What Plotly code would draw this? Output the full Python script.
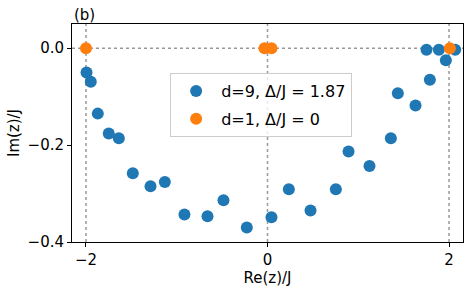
import plotly.graph_objects as go

# d=9, Delta/J=1.87
re_d9 = [-1.994, -1.947, -1.870, -1.749, -1.638, -1.484, -1.289, -1.131, -0.915, -0.661,
         -0.485, -0.228, 0.044, 0.235, 0.474, 0.753, 0.893, 1.124, 1.359, 1.436,
         1.631, 1.789, 1.752, 1.888, 1.965, 2.068]
im_d9 = [-0.050, -0.069, -0.135, -0.176, -0.186, -0.258, -0.285, -0.276, -0.343, -0.347,
         -0.314, -0.370, -0.349, -0.291, -0.335, -0.291, -0.213, -0.243, -0.186, -0.093,
         -0.118, -0.065, -0.003, -0.003, -0.025, -0.003]
# d=1, Delta/J=0
re_d1 = [-2.0, -0.033, 0.044, 2.009]
im_d1 = [0.0, 0.0, 0.0, 0.0]

ref_x = [-2, 0, 2]
ref_y = [0]

FONT = "DejaVu Sans"
fig = go.Figure()
fig.add_trace(go.Scatter(x=re_d9, y=im_d9, mode="markers", name="d=9, Δ/J = 1.87",
                         legendgroup="a", marker=dict(color="#1f77b4", size=12)))
fig.add_trace(go.Scatter(x=re_d1, y=im_d1, mode="markers", name="d=1, Δ/J = 0",
                         legendgroup="b", marker=dict(color="#ff7f0e", size=12)))
for xv in ref_x:
    fig.add_vline(x=xv, line=dict(color="#999999", width=1.5, dash="dot"), layer="below")
for yv in ref_y:
    fig.add_hline(y=yv, line=dict(color="#999999", width=1.5, dash="dot"), layer="below")

axis_common = dict(showgrid=False, zeroline=False, showline=True, linecolor="black",
                   linewidth=1, mirror=True, ticks="outside", ticklen=4, tickcolor="black",
                   automargin=False,
                   tickfont=dict(size=15, color="black", family=FONT))
fig.update_xaxes(range=[-2.154, 2.154], tickvals=[-2, 0, 2],
                 title=dict(text="Re(z)/J", font=dict(size=15, color="black", family=FONT), standoff=2),
                 **axis_common)
fig.update_yaxes(range=[-0.4, 0.05], tickvals=[0, -0.2, -0.4], tickformat=".1f",
                 title=dict(text="Im(z)/J", font=dict(size=15, color="black", family=FONT), standoff=4),
                 **axis_common)
fig.add_annotation(text="(b)", xref="paper", yref="paper", x=0, y=1, xanchor="left",
                   yanchor="bottom", yshift=-2, showarrow=False,
                   font=dict(size=15, color="black", family=FONT))
fig.update_layout(
    width=469, height=290, plot_bgcolor="white", paper_bgcolor="white",
    margin=dict(l=72, r=6, t=24, b=48, autoexpand=False),
    font=dict(family=FONT, color="black"),
    legend=dict(x=0.251, y=0.775, xanchor="left", yanchor="top",
                bordercolor="#cccccc", borderwidth=1, bgcolor="rgba(255,255,255,0.8)",
                itemwidth=40, tracegroupgap=4,
                font=dict(size=16, family=FONT, color="black")),
)
fig.write_html("out.html", config={"displayModeBar": False},
               post_script="document.body.style.margin='0';")
